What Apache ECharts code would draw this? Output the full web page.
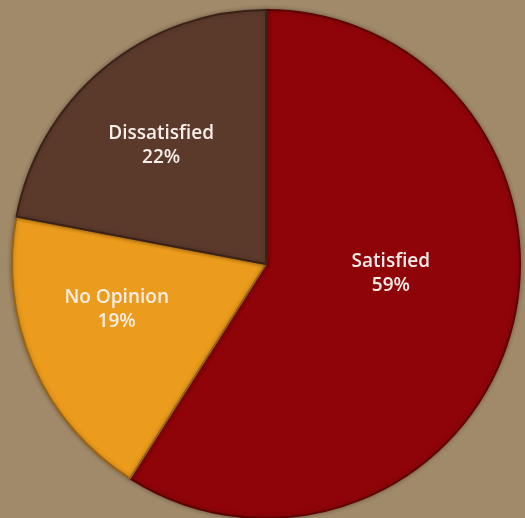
<!DOCTYPE html>
<html>
<head>
<meta charset="utf-8">
<style>
  html, body { margin: 0; padding: 0; background: #a08a6a; }
  #chart { width: 525px; height: 518px; }
</style>
<script src="https://cdn.jsdelivr.net/npm/echarts@6/dist/echarts.min.js"></script>
</head>
<body>
<div id="chart"></div>
<script>
// Survey responses, clockwise from 12 o'clock
const categories = ['Satisfied', 'No Opinion', 'Dissatisfied'];
const shares = [59, 19, 22];

const sliceColors = ['#8f0408', '#ec9c1c', '#5b3a2c'];
const edgeColors = ['#5e0204', '#9a6410', '#3a2219'];
const labelOffsets = [[0, -27], [-30, -6], [-22, -18]];

const chart = echarts.init(document.getElementById('chart'));
chart.setOption({
  backgroundColor: '#a08a6a',
  animation: false,
  series: [{
    type: 'pie',
    center: [266, 264],
    radius: 254,
    startAngle: 90,
    clockwise: true,
    avoidLabelOverlap: false,
    label: {
      position: 'inside',
      formatter: p => p.name + '\n' + p.value + '%',
      color: '#f7eeea',
      fontFamily: 'Open Sans',
      fontWeight: 600,
      fontSize: 19,
      lineHeight: 24,
      align: 'center'
    },
    labelLine: { show: false },
    emphasis: { disabled: true },
    data: categories.map((name, i) => ({
      name: name,
      value: shares[i],
      itemStyle: {
        color: sliceColors[i],
        borderColor: edgeColors[i],
        borderWidth: 2,
        shadowColor: 'rgba(40,20,10,0.35)',
        shadowBlur: 4
      },
      label: { offset: labelOffsets[i] }
    }))
  }]
});
</script>
</body>
</html>
